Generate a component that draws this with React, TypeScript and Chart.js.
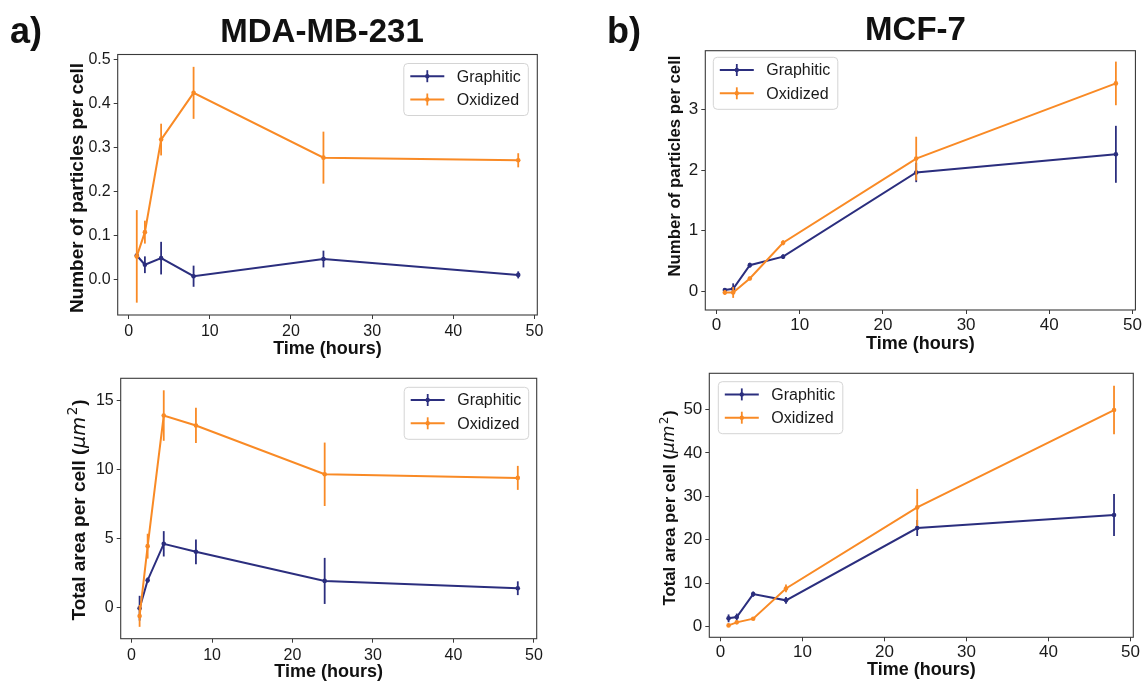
import React, { useEffect, useRef } from "react";
import { Chart, registerables } from "chart.js";

Chart.register(...registerables);

// ---------- data ----------
const TIME_HOURS = [1, 2, 4, 8, 24, 48];
const X_TICKS = [0, 10, 20, 30, 40, 50];
const X_RANGE = [-1.35, 50.35];
const SERIES_NAMES = ["Graphitic", "Oxidized"];
const X_TITLE = "Time (hours)";

// a) MDA-MB-231 — number of particles per cell
const MDA_PART_GRAPHITIC = [0.055, 0.034, 0.049, 0.008, 0.047, 0.011];
const MDA_PART_GRAPHITIC_ERR = [0.004, 0.019, 0.037, 0.024, 0.019, 0.008];
const MDA_PART_OXIDIZED = [0.053, 0.108, 0.318, 0.424, 0.277, 0.271];
const MDA_PART_OXIDIZED_ERR = [0.105, 0.026, 0.036, 0.059, 0.059, 0.016];
const MDA_PART_TICKS = [0, 0.1, 0.2, 0.3, 0.4, 0.5];
const MDA_PART_RANGE = [-0.08, 0.511];

// a) MDA-MB-231 — total area per cell
const MDA_AREA_GRAPHITIC = [-0.07, 1.96, 4.6, 4.02, 1.91, 1.38];
const MDA_AREA_GRAPHITIC_ERR = [0.9, 0.2, 0.92, 0.9, 1.67, 0.5];
const MDA_AREA_OXIDIZED = [-0.63, 4.43, 13.9, 13.18, 9.64, 9.38];
const MDA_AREA_OXIDIZED_ERR = [0.79, 0.9, 1.83, 1.28, 2.3, 0.87];
const MDA_AREA_TICKS = [0, 5, 10, 15];
const MDA_AREA_RANGE = [-2.28, 16.6];

// b) MCF-7 — number of particles per cell
const MCF_PART_GRAPHITIC = [0.02, 0.04, 0.43, 0.57, 1.96, 2.26];
const MCF_PART_GRAPHITIC_ERR = [0.03, 0.09, 0.04, 0.04, 0.16, 0.47];
const MCF_PART_OXIDIZED = [-0.02, -0.02, 0.21, 0.8, 2.19, 3.43];
const MCF_PART_OXIDIZED_ERR = [0.04, 0.09, 0.03, 0.04, 0.36, 0.36];
const MCF_PART_TICKS = [0, 1, 2, 3];
const MCF_PART_RANGE = [-0.31, 3.97];

// b) MCF-7 — total area per cell
const MCF_AREA_GRAPHITIC = [1.92, 2.22, 7.5, 6.06, 22.7, 25.7];
const MCF_AREA_GRAPHITIC_ERR = [0.9, 0.8, 0.6, 0.8, 1.84, 4.83];
const MCF_AREA_OXIDIZED = [0.3, 1.0, 1.84, 8.8, 27.45, 49.85];
const MCF_AREA_OXIDIZED_ERR = [0.2, 0.3, 0.3, 0.9, 4.25, 5.6];
const MCF_AREA_TICKS = [0, 10, 20, 30, 40, 50];
const MCF_AREA_RANGE = [-2.44, 58.3];

// axis titles as text runs: [text, style] (style: n = bold text, m = math italic, s = superscript)
const Y_TITLE_PARTICLES: [string, string][] = [["Number of particles per cell", "n"]];
const Y_TITLE_AREA: [string, string][] = [
  ["Total area per cell (", "n"],
  ["\u03bcm", "m"],
  ["2", "s"],
  [")", "n"],
];

// ---------- styles ----------
const W = 1143;
const H = 683;
const FONT = "'Liberation Sans', Arial, sans-serif";
const MATH_FONT = "'DejaVu Sans', sans-serif";
const COLORS = ["#2b2e7e", "#f98a25"];
const TEXT = "#1a1a1a";
const SPINE = "#3a3a3a";

type Panel = {
  box: number[]; // l, t, r, b in page px
  ylabX: number;
  ylabY: number;
  xlabY: number;
  yTitle: [string, string][];
  yTicks: number[];
  yRange: number[];
  decimals: number;
  tickFont: number;
  tickPad: number;
  yTitleFont: number;
  xTitleFont: number;
  legendSide: "left" | "right";
  legendDx: number;
  legendDy: number;
  values: number[][];
  errors: number[][];
  heading?: { label: string; labelX: number; title: string; titleX: number; baseY: number; titleBaseY: number };
};

const PANELS: Panel[] = [
  {
    box: [117.7, 54.5, 537.3, 315],
    ylabX: 78,
    ylabY: 188,
    xlabY: 349,
    yTitle: Y_TITLE_PARTICLES,
    yTicks: MDA_PART_TICKS,
    yRange: MDA_PART_RANGE,
    decimals: 1,
    tickFont: 16,
    tickPad: 3,
    yTitleFont: 19,
    xTitleFont: 18,
    legendSide: "right",
    legendDx: 9,
    legendDy: 9,
    values: [MDA_PART_GRAPHITIC, MDA_PART_OXIDIZED],
    errors: [MDA_PART_GRAPHITIC_ERR, MDA_PART_OXIDIZED_ERR],
    heading: { label: "a)", labelX: 10, title: "MDA-MB-231", titleX: 322, baseY: 43, titleBaseY: 42 },
  },
  {
    box: [120.7, 378.3, 536.7, 638.7],
    ylabX: 80,
    ylabY: 510,
    xlabY: 672,
    yTitle: Y_TITLE_AREA,
    yTicks: MDA_AREA_TICKS,
    yRange: MDA_AREA_RANGE,
    decimals: 0,
    tickFont: 16,
    tickPad: 3,
    yTitleFont: 19,
    xTitleFont: 18,
    legendSide: "right",
    legendDx: 8,
    legendDy: 9,
    values: [MDA_AREA_GRAPHITIC, MDA_AREA_OXIDIZED],
    errors: [MDA_AREA_GRAPHITIC_ERR, MDA_AREA_OXIDIZED_ERR],
  },
  {
    box: [705.3, 50.7, 1138.6, 310],
    ylabX: 675,
    ylabY: 166,
    xlabY: 344,
    yTitle: Y_TITLE_PARTICLES,
    yTicks: MCF_PART_TICKS,
    yRange: MCF_PART_RANGE,
    decimals: 0,
    tickFont: 17,
    tickPad: 1,
    yTitleFont: 16.8,
    xTitleFont: 18,
    legendSide: "left",
    legendDx: 8,
    legendDy: 6.6,
    values: [MCF_PART_GRAPHITIC, MCF_PART_OXIDIZED],
    errors: [MCF_PART_GRAPHITIC_ERR, MCF_PART_OXIDIZED_ERR],
    heading: { label: "b)", labelX: 607, title: "MCF-7", titleX: 915.5, baseY: 43, titleBaseY: 40 },
  },
  {
    box: [709.3, 373.3, 1133.3, 637.3],
    ylabX: 670,
    ylabY: 508,
    xlabY: 670,
    yTitle: Y_TITLE_AREA,
    yTicks: MCF_AREA_TICKS,
    yRange: MCF_AREA_RANGE,
    decimals: 0,
    tickFont: 17,
    tickPad: 1,
    yTitleFont: 16.8,
    xTitleFont: 18,
    legendSide: "left",
    legendDx: 9,
    legendDy: 8.4,
    values: [MCF_AREA_GRAPHITIC, MCF_AREA_OXIDIZED],
    errors: [MCF_AREA_GRAPHITIC_ERR, MCF_AREA_OXIDIZED_ERR],
  },
];

// ---------- plugins ----------
const errorBarPlugin = {
  id: "errorBars",
  afterDatasetDraw(chart: any, args: any) {
    const ds = chart.data.datasets[args.index];
    const errs: number[] = ds.errors;
    if (!errs) return;
    const xs = chart.scales.x;
    const ys = chart.scales.y;
    const ctx = chart.ctx;
    ctx.save();
    ctx.strokeStyle = ds.borderColor;
    ctx.lineWidth = 1.8;
    ds.data.forEach((p: any, i: number) => {
      const x = xs.getPixelForValue(p.x);
      ctx.beginPath();
      ctx.moveTo(x, ys.getPixelForValue(p.y - errs[i]));
      ctx.lineTo(x, ys.getPixelForValue(p.y + errs[i]));
      ctx.stroke();
    });
    ctx.restore();
  },
};

const framePlugin = {
  id: "frame",
  afterDatasetsDraw(chart: any) {
    const { ctx, chartArea: a } = chart;
    ctx.save();
    ctx.strokeStyle = SPINE;
    ctx.lineWidth = 1.1;
    ctx.strokeRect(a.left, a.top, a.right - a.left, a.bottom - a.top);
    ctx.restore();
  },
};

const yTitlePlugin = {
  id: "yTitleRuns",
  afterDraw(chart: any, _args: any, opts: any) {
    const runs: [string, string][] = opts.runs;
    if (!runs) return;
    const size: number = opts.size;
    const ctx = chart.ctx;
    const fontFor = (st: string) =>
      st === "n"
        ? `bold ${size}px ${FONT}`
        : st === "m"
        ? `italic ${size * 1.02}px ${MATH_FONT}`
        : `${size * 0.72}px ${MATH_FONT}`;
    ctx.save();
    let total = 0;
    const gap = size * 0.08;
    const widths = runs.map(([t, st]) => {
      ctx.font = fontFor(st);
      const w = ctx.measureText(t).width + (st === "n" ? 0 : gap);
      total += w;
      return w;
    });
    ctx.translate(opts.x, opts.y);
    ctx.rotate(-Math.PI / 2);
    ctx.fillStyle = "#111";
    ctx.textAlign = "left";
    ctx.textBaseline = "middle";
    let cx = -total / 2;
    runs.forEach(([t, st], i) => {
      ctx.font = fontFor(st);
      ctx.fillText(t, cx + (st === "n" ? 0 : gap / 2), st === "s" ? -size * 0.33 : 0);
      cx += widths[i];
    });
    ctx.restore();
  },
};

const legendPlugin = {
  id: "boxLegend",
  afterDraw(chart: any, _args: any, opts: any) {
    const { ctx, chartArea: a } = chart;
    const bw = 124.5;
    const bh = 52;
    const left = opts.side === "right" ? a.right - opts.dx - bw : a.left + opts.dx;
    const top = a.top + opts.dy;
    ctx.save();
    ctx.beginPath();
    const r = 4;
    ctx.moveTo(left + r, top);
    ctx.lineTo(left + bw - r, top);
    ctx.arcTo(left + bw, top, left + bw, top + r, r);
    ctx.lineTo(left + bw, top + bh - r);
    ctx.arcTo(left + bw, top + bh, left + bw - r, top + bh, r);
    ctx.lineTo(left + r, top + bh);
    ctx.arcTo(left, top + bh, left, top + bh - r, r);
    ctx.lineTo(left, top + r);
    ctx.arcTo(left, top, left + r, top, r);
    ctx.closePath();
    ctx.fillStyle = "rgba(255,255,255,0.85)";
    ctx.fill();
    ctx.strokeStyle = "#d4d4d4";
    ctx.lineWidth = 1;
    ctx.stroke();
    chart.data.datasets.forEach((ds: any, i: number) => {
      const y = top + 12.7 + i * 23.3;
      const x0 = left + 6.5;
      const x1 = x0 + 34;
      const xm = (x0 + x1) / 2;
      ctx.strokeStyle = ds.borderColor;
      ctx.lineWidth = 2;
      ctx.beginPath();
      ctx.moveTo(x0, y);
      ctx.lineTo(x1, y);
      ctx.stroke();
      ctx.lineWidth = 1.8;
      ctx.beginPath();
      ctx.moveTo(xm, y - 6);
      ctx.lineTo(xm, y + 6);
      ctx.stroke();
      ctx.fillStyle = ds.borderColor;
      ctx.beginPath();
      ctx.arc(xm, y, 2.2, 0, Math.PI * 2);
      ctx.fill();
      ctx.fillStyle = TEXT;
      ctx.font = `16px ${FONT}`;
      ctx.textBaseline = "middle";
      ctx.textAlign = "left";
      ctx.fillText(ds.label, left + 53, y + 1);
    });
    ctx.restore();
  },
};

const headingPlugin = {
  id: "heading",
  afterDraw(chart: any, _args: any, opts: any) {
    if (!opts || !opts.label) return;
    const ctx = chart.ctx;
    ctx.save();
    ctx.fillStyle = "#111";
    ctx.textBaseline = "alphabetic";
    ctx.font = `bold 36px ${FONT}`;
    ctx.textAlign = "left";
    ctx.fillText(opts.label, opts.labelX, opts.baseY);
    ctx.font = `bold 33px ${FONT}`;
    ctx.textAlign = "center";
    ctx.fillText(opts.title, opts.titleX, opts.titleBaseY);
    ctx.restore();
  },
};

function buildConfig(p: Panel): any {
  const [l, t, r, b] = p.box;
  const xLH = p.xTitleFont * 1.2;
  const padLeft = 0;
  const padBottom = H - p.xlabY - xLH / 2 - 2;
  const yWidth = l - padLeft;
  const xHeight = H - padBottom - b;
  return {
    type: "line",
    data: {
      datasets: SERIES_NAMES.map((name, si) => ({
        label: name,
        data: TIME_HOURS.map((x, i) => ({ x, y: p.values[si][i] })),
        errors: p.errors[si],
        borderColor: COLORS[si],
        backgroundColor: COLORS[si],
        borderWidth: 2,
        pointRadius: 2.3,
        pointBorderWidth: 0,
        pointHoverRadius: 2.3,
        fill: false,
        tension: 0,
        order: si === 0 ? 1 : 0,
        clip: false,
      })),
    },
    options: {
      responsive: false,
      maintainAspectRatio: false,
      animation: false,
      events: [],
      layout: { padding: { left: padLeft, top: t, right: W - r, bottom: padBottom } },
      plugins: {
        legend: { display: false },
        tooltip: { enabled: false },
        boxLegend: { side: p.legendSide, dx: p.legendDx, dy: p.legendDy },
        heading: p.heading || {},
        yTitleRuns: { runs: p.yTitle, size: p.yTitleFont, x: p.ylabX, y: p.ylabY },
      },
      scales: {
        x: {
          type: "linear",
          min: X_RANGE[0],
          max: X_RANGE[1],
          bounds: "data",
          afterBuildTicks: (s: any) => {
            s.ticks = X_TICKS.map((v) => ({ value: v }));
          },
          afterFit: (s: any) => {
            s.height = xHeight;
          },
          grid: { display: true, drawOnChartArea: false, drawTicks: true, tickLength: 4, color: SPINE, lineWidth: 1 },
          border: { display: false },
          ticks: {
            autoSkip: false,
            maxRotation: 0,
            padding: p.tickPad,
            color: TEXT,
            font: { family: FONT, size: p.tickFont },
            callback: (v: any) => String(v),
          },
          title: {
            display: true,
            text: X_TITLE,
            color: "#111",
            font: { family: FONT, size: p.xTitleFont, weight: "bold", lineHeight: 1.2 },
            padding: { top: 0, bottom: 2 },
          },
        },
        y: {
          type: "linear",
          min: p.yRange[0],
          max: p.yRange[1],
          bounds: "data",
          afterBuildTicks: (s: any) => {
            s.ticks = p.yTicks.map((v) => ({ value: v }));
          },
          afterFit: (s: any) => {
            s.width = yWidth;
          },
          grid: { display: true, drawOnChartArea: false, drawTicks: true, tickLength: 4, color: SPINE, lineWidth: 1 },
          border: { display: false },
          ticks: {
            autoSkip: false,
            padding: 3,
            color: TEXT,
            font: { family: FONT, size: p.tickFont },
            callback: (v: any) => Number(v).toFixed(p.decimals),
          },
          title: { display: false },
        },
      },
    },
    plugins: [errorBarPlugin, framePlugin, legendPlugin, headingPlugin, yTitlePlugin],
  };
}

function PanelCanvas({ panel }: { panel: Panel }) {
  const ref = useRef<HTMLCanvasElement | null>(null);
  useEffect(() => {
    if (!ref.current) return;
    const chart = new Chart(ref.current, buildConfig(panel));
    return () => chart.destroy();
  }, [panel]);
  return (
    <canvas
      ref={ref}
      width={W}
      height={H}
      style={{ position: "absolute", left: 0, top: 0, width: W, height: H }}
    />
  );
}

export default function App() {
  return (
    <div
      style={{
        position: "absolute",
        left: 0,
        top: 0,
        width: W,
        height: H,
        background: "#ffffff",
        overflow: "hidden",
      }}
    >
      {PANELS.map((p, i) => (
        <PanelCanvas key={i} panel={p} />
      ))}
    </div>
  );
}
